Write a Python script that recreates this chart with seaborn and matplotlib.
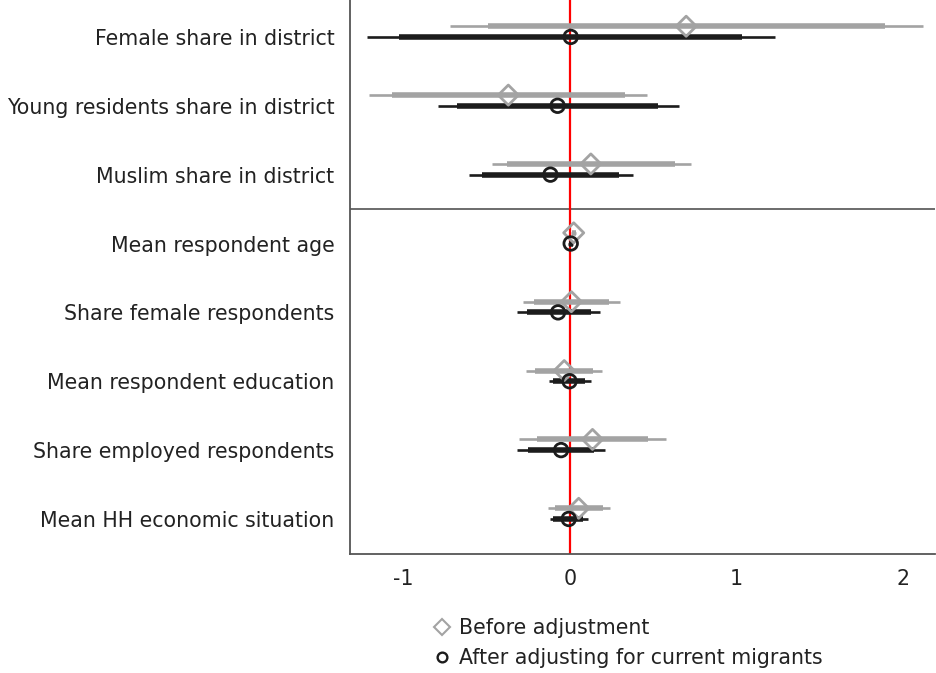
import numpy as np
import pandas as pd
import matplotlib
matplotlib.use("Agg")
import matplotlib.pyplot as plt
from matplotlib.lines import Line2D
import seaborn as sns

# Covariates, top to bottom
labels = [
    "Female share in district",
    "Young residents share in district",
    "Muslim share in district",
    "Mean respondent age",
    "Share female respondents",
    "Mean respondent education",
    "Share employed respondents",
    "Mean HH economic situation",
]

# Before adjustment: point estimate, 90% and 95% intervals
before_est = [0.699, -0.370, 0.126, 0.023, 0.009, -0.034, 0.136, 0.053]
before_lo90 = [-0.492, -1.071, -0.377, 0.012, -0.216, -0.209, -0.198, -0.092]
before_hi90 = [1.894, 0.331, 0.630, 0.034, 0.234, 0.140, 0.471, 0.200]
before_lo95 = [-0.722, -1.207, -0.469, 0.008, -0.283, -0.262, -0.303, -0.133]
before_hi95 = [2.124, 0.462, 0.726, 0.038, 0.303, 0.193, 0.575, 0.239]

# After adjusting for current migrants
after_est = [0.005, -0.074, -0.117, 0.005, -0.071, -0.002, -0.053, -0.007]
after_lo90 = [-1.025, -0.680, -0.526, -0.006, -0.260, -0.103, -0.253, -0.099]
after_hi90 = [1.037, 0.531, 0.297, 0.016, 0.124, 0.090, 0.147, 0.080]
after_lo95 = [-1.221, -0.795, -0.607, -0.010, -0.320, -0.126, -0.317, -0.117]
after_hi95 = [1.234, 0.653, 0.379, 0.020, 0.182, 0.124, 0.211, 0.108]

series_names = ["Before adjustment", "After adjusting for current migrants"]
xticks = [-1, 0, 1, 2]

sns.set_style("white")
plt.rcParams["font.family"] = ["DejaVu Sans"]

GRAY = "#a3a3a3"
BLACK = "#1c1c1c"
AXC = "#555555"
FS = 14.8

rows = np.arange(len(labels))
frames = []
for name, est, lo90, hi90, lo95, hi95, shift in [
    (series_names[0], before_est, before_lo90, before_hi90, before_lo95, before_hi95, -0.155),
    (series_names[1], after_est, after_lo90, after_hi90, after_lo95, after_hi95, 0.0),
]:
    frames.append(pd.DataFrame({
        "series": name, "label": labels, "y": rows + shift, "est": est,
        "lo90": lo90, "hi90": hi90, "lo95": lo95, "hi95": hi95,
    }))
df = pd.concat(frames, ignore_index=True)

fig = plt.figure(figsize=(9.36, 6.73), dpi=100)
ax = fig.add_axes([0.3735, 0.177, 0.6255, 0.823])

colors = {series_names[0]: GRAY, series_names[1]: BLACK}
markers = {series_names[0]: "D", series_names[1]: "o"}
msizes = {series_names[0]: 105, series_names[1]: 95}

# Zero reference line
ax.axvline(0, color="#ff0000", lw=1.6, zorder=2)

for name, sub in df.groupby("series", sort=False):
    c = colors[name]
    ax.hlines(sub["y"], sub["lo95"], sub["hi95"], color=c, lw=1.9, zorder=3)
    ax.hlines(sub["y"], sub["lo90"], sub["hi90"], color=c, lw=4.0, zorder=3)

for name in series_names:
    sub = df[df["series"] == name]
    sns.scatterplot(data=sub, x="est", y="y", ax=ax, marker=markers[name],
                    s=msizes[name], facecolor="none", edgecolor=colors[name],
                    linewidth=2.0, zorder=4, legend=False)

# Divider between district-level and respondent-level covariates
ax.axhline(2.5, color="#444444", lw=1.1, zorder=1)

ax.set_xlim(-1.324, 2.195)
ax.set_ylim(7.507, -0.536)
ax.set_yticks(rows)
ax.set_yticklabels(labels)
ax.set_xticks(xticks)
ax.set_xticklabels([str(t) for t in xticks])
ax.set_xlabel("")
ax.set_ylabel("")

for side in ["top", "right"]:
    ax.spines[side].set_visible(False)
for side in ["left", "bottom"]:
    ax.spines[side].set_color(AXC)
    ax.spines[side].set_linewidth(1.3)
ax.tick_params(axis="both", colors=AXC, length=8, width=1.3, labelsize=FS,
               labelcolor="#222222")
ax.tick_params(axis="y", pad=3)
ax.tick_params(axis="x", pad=3)

handles = [
    Line2D([], [], marker="D", ls="none", markersize=8, markerfacecolor="none",
           markeredgecolor=GRAY, markeredgewidth=1.5),
    Line2D([], [], marker="o", ls="none", markersize=7, markerfacecolor="none",
           markeredgecolor=BLACK, markeredgewidth=1.7),
]
fig.legend(handles, series_names, loc="upper left", bbox_to_anchor=(0.452, 0.094),
           frameon=False, fontsize=FS, handlelength=1.0, handletextpad=0.35,
           labelspacing=0.5, labelcolor="#222222", borderaxespad=0)

fig.savefig("out.png", dpi=100)
